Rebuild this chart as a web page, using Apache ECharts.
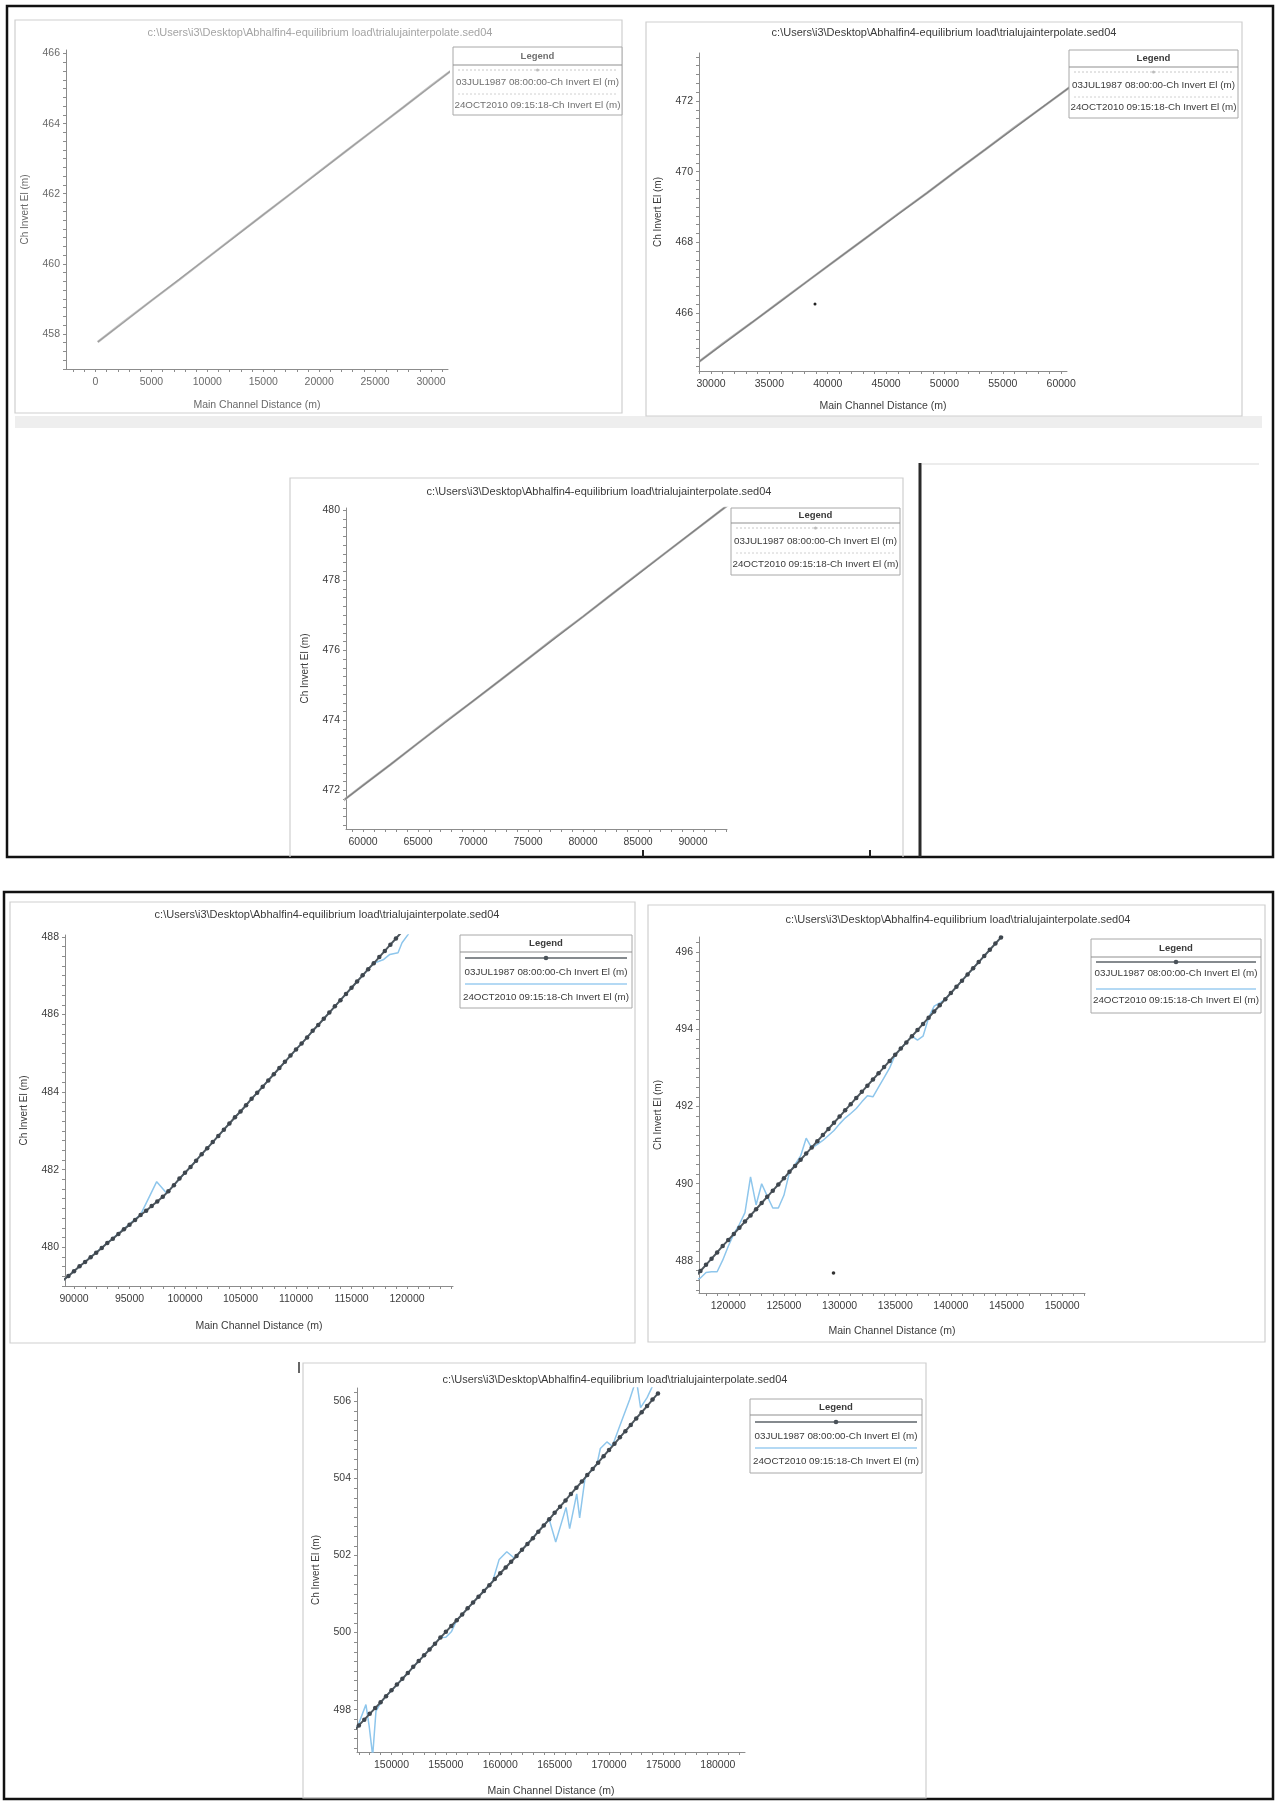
<!DOCTYPE html>
<html>
<head>
<meta charset="utf-8">
<script src="https://cdn.jsdelivr.net/npm/echarts@6/dist/echarts.min.js"></script>
<style>
  html, body { margin: 0; padding: 0; background: #ffffff; }
  #chart { width: 1275px; height: 1801px; }
</style>
</head>
<body>
<div id="chart"></div>
<script>
// ---- Texts ----
const PLOT_TITLE = 'c:\\Users\\i3\\Desktop\\Abhalfin4-equilibrium load\\trialujainterpolate.sed04';
const NAME_1987 = '03JUL1987 08:00:00-Ch Invert El (m)';
const NAME_2010 = '24OCT2010 09:15:18-Ch Invert El (m)';
const X_NAME = 'Main Channel Distance (m)';
const Y_NAME = 'Ch Invert El (m)';

// ---- Tick labels ----
const p1XTicks = [0, 5000, 10000, 15000, 20000, 25000, 30000];
const p1YTicks = [458, 460, 462, 464, 466];
const p2XTicks = [30000, 35000, 40000, 45000, 50000, 55000, 60000];
const p2YTicks = [466, 468, 470, 472];
const p3XTicks = [60000, 65000, 70000, 75000, 80000, 85000, 90000];
const p3YTicks = [472, 474, 476, 478, 480];
const p4XTicks = [90000, 95000, 100000, 105000, 110000, 115000, 120000];
const p4YTicks = [480, 482, 484, 486, 488];
const p5XTicks = [120000, 125000, 130000, 135000, 140000, 145000, 150000];
const p5YTicks = [488, 490, 492, 494, 496];
const p6XTicks = [150000, 155000, 160000, 165000, 170000, 175000, 180000];
const p6YTicks = [498, 500, 502, 504, 506];

// ---- Reach 0 - 32 km ----
const p1Dist = [200, 2500, 5000, 7500, 10000, 12500, 15000, 17500, 20000, 22500, 25000, 27500, 30000, 32500];
const p1Elev1987 = [457.77, 458.33, 458.95, 459.56, 460.17, 460.78, 461.40, 462.01, 462.62, 463.24, 463.85, 464.46, 465.07, 465.68];
const p1Elev2010 = [457.77, 458.34, 458.95, 459.55, 460.17, 460.79, 461.40, 462.01, 462.63, 463.24, 463.85, 464.46, 465.08, 465.68];

// ---- Reach 29 - 61 km ----
const p2Dist = [29000, 31000, 33500, 36000, 38500, 41000, 43500, 46000, 48500, 51000, 53500, 56000, 58500, 61000];
const p2Elev1987 = [464.63, 465.12, 465.73, 466.34, 466.96, 467.57, 468.18, 468.79, 469.40, 470.02, 470.63, 471.24, 471.85, 472.46];
const p2Elev2010 = [464.63, 465.13, 465.73, 466.35, 466.96, 467.57, 468.18, 468.80, 469.40, 470.02, 470.63, 471.25, 471.85, 472.46];

// ---- Reach 58 - 93 km ----
const p3Dist = [58000, 60000, 62500, 65000, 67500, 70000, 72500, 75000, 77500, 80000, 82500, 85000, 87500, 90000, 92500, 93500];
const p3Elev1987 = [471.66, 472.14, 472.74, 473.35, 473.95, 474.55, 475.15, 475.76, 476.36, 476.96, 477.57, 478.17, 478.78, 479.38, 479.98, 480.22];
const p3Elev2010 = [471.66, 472.15, 472.74, 473.35, 473.96, 474.55, 475.15, 475.76, 476.37, 476.96, 477.57, 478.18, 478.78, 479.38, 479.98, 480.22];

// ---- Reach 89 - 121 km ----
const p4Dist = [89000, 89500, 90000, 90500, 91000, 91500, 92000, 92500, 93000, 93500, 94000, 94500, 95000, 95500, 96000, 96500,
  97000, 97500, 98000, 98500, 99000, 99500, 100000, 100500, 101000, 101500, 102000, 102500, 103000, 103500, 104000, 104500,
  105000, 105500, 106000, 106500, 107000, 107500, 108000, 108500, 109000, 109500, 110000, 110500, 111000, 111500, 112000,
  112500, 113000, 113500, 114000, 114500, 115000, 115500, 116000, 116500, 117000, 117500, 118000, 118500, 119000, 119500,
  120000, 120500];
const p4Elev1987 = [479.14, 479.26, 479.38, 479.51, 479.62, 479.74, 479.86, 479.98, 480.11, 480.22, 480.34, 480.46, 480.58, 480.70, 480.83, 480.94,
  481.06, 481.18, 481.30, 481.44, 481.60, 481.77, 481.92, 482.07, 482.23, 482.40, 482.55, 482.71, 482.87, 483.03, 483.19, 483.35,
  483.50, 483.66, 483.83, 483.98, 484.14, 484.30, 484.46, 484.62, 484.78, 484.94, 485.10, 485.25, 485.41, 485.58, 485.73,
  485.89, 486.05, 486.21, 486.37, 486.53, 486.69, 486.85, 487.01, 487.17, 487.32, 487.48, 487.64, 487.80, 487.96, 488.12,
  488.28, 488.44];
const p4Dist2010 = [89000, 96000, 97450, 98350, 117000, 117900, 118450, 119190, 119550, 120090, 120600];
const p4Elev2010 = [479.14, 480.84, 481.69, 481.39, 487.32, 487.42, 487.55, 487.59, 487.85, 488.06, 488.35];

// ---- Reach 117 - 145 km ----
const p5Dist = [117000, 117500, 118000, 118500, 119000, 119500, 120000, 120500, 121000, 121500, 122000, 122500, 123000, 123500,
  124000, 124500, 125000, 125500, 126000, 126500, 127000, 127500, 128000, 128500, 129000, 129500, 130000, 130500, 131000,
  131500, 132000, 132500, 133000, 133500, 134000, 134500, 135000, 135500, 136000, 136500, 137000, 137500, 138000, 138500,
  139000, 139500, 140000, 140500, 141000, 141500, 142000, 142500, 143000, 143500, 144000, 144500, 145000];
const p5Elev1987 = [487.58, 487.74, 487.90, 488.06, 488.22, 488.39, 488.54, 488.70, 488.86, 489.02, 489.18, 489.34, 489.50, 489.66,
  489.82, 489.98, 490.14, 490.31, 490.46, 490.62, 490.78, 490.94, 491.10, 491.26, 491.42, 491.58, 491.74, 491.90, 492.06,
  492.22, 492.38, 492.54, 492.70, 492.86, 493.02, 493.18, 493.34, 493.50, 493.66, 493.82, 493.98, 494.14, 494.30, 494.46,
  494.62, 494.78, 494.94, 495.10, 495.26, 495.42, 495.58, 495.74, 495.90, 496.06, 496.22, 496.38, 496.54];
const p5Dist2010 = [117000, 117500, 118000, 118500, 119000, 119500, 120000, 120500, 121000, 121500, 122000, 122500, 123000, 123500,
  124000, 124500, 125000, 125500, 126000, 126500, 127000, 127500, 128000, 128500, 129000, 129500, 130000, 130500, 131000,
  131500, 132000, 132500, 133000, 133500, 134000, 134500, 135000, 136500, 137000, 137500, 138000, 138500, 139000, 139500, 145000];
const p5Elev2010 = [487.50, 487.56, 487.70, 487.72, 487.72, 488.02, 488.38, 488.70, 488.95, 489.25, 490.18, 489.45, 490.00, 489.68,
  489.37, 489.37, 489.70, 490.30, 490.50, 490.72, 491.18, 490.92, 491.02, 491.12, 491.25, 491.38, 491.55, 491.70, 491.82,
  491.95, 492.12, 492.28, 492.25, 492.50, 492.75, 493.00, 493.34, 493.82, 493.72, 493.82, 494.30, 494.60, 494.68, 494.78, 496.54];

// ---- Reach 146 - 175 km ----
const p6Dist = [146500, 147000, 147500, 148000, 148500, 149000, 149500, 150000, 150500, 151000, 151500, 152000, 152500, 153000,
  153500, 154000, 154500, 155000, 155500, 156000, 156500, 157000, 157500, 158000, 158500, 159000, 159500, 160000, 160500,
  161000, 161500, 162000, 162500, 163000, 163500, 164000, 164500, 165000, 165500, 166000, 166500, 167000, 167500, 168000,
  168500, 169000, 169500, 170000, 170500, 171000, 171500, 172000, 172500, 173000, 173500, 174000, 174500];
const p6Elev1987 = [497.43, 497.59, 497.74, 497.89, 498.04, 498.19, 498.35, 498.50, 498.65, 498.80, 498.95, 499.11, 499.26, 499.41,
  499.56, 499.71, 499.87, 500.02, 500.17, 500.32, 500.47, 500.63, 500.78, 500.93, 501.08, 501.23, 501.39, 501.54, 501.69,
  501.84, 501.99, 502.15, 502.30, 502.45, 502.62, 502.78, 502.94, 503.11, 503.27, 503.43, 503.60, 503.76, 503.92, 504.09,
  504.25, 504.41, 504.58, 504.74, 504.90, 505.07, 505.23, 505.39, 505.56, 505.72, 505.88, 506.05, 506.21];
const p6Dist2010 = [146500, 146950, 147650, 147950, 148270, 148575, 149100, 154500, 155000, 155500, 156000, 159300, 159900, 160600,
  161300, 164500, 165100, 166050, 166380, 167030, 167300, 167800, 168900, 169200, 169800, 170300, 170900, 171900, 172300,
  172600, 172900, 173500, 174000];
const p6Elev2010 = [497.40, 497.61, 498.13, 497.57, 496.80, 497.96, 498.22, 499.87, 499.88, 500.02, 500.32, 501.33, 501.90, 502.10,
  501.93, 502.94, 502.35, 503.25, 502.70, 503.60, 502.98, 504.02, 504.38, 504.78, 504.95, 504.84, 505.30, 506.05, 506.40,
  506.40, 505.84, 506.10, 506.40];

// ---- Layout of the six profile plots ----
const FONT = '"Liberation Sans", Arial, Helvetica, sans-serif';
const panels = [
  { grid: { left: 66, top: 50, width: 382, height: 319 }, xMin: -2640, xMax: 31520, yMin: 457.0, yMax: 466.1,
    xTicks: p1XTicks, yTicks: p1YTicks, xNameGap: 31, showXName: true, rich: false, faded: true,
    dist: p1Dist, e1987: p1Elev1987, dist2010: p1Dist, e2010: p1Elev2010,
    box: [15, 20, 622, 413], title: [320, 33],
    legend: { x: 453, w: 169, top: 47, head: 65, s1: 70, t1: 82, s2: 94, t2: 105, bottom: 115 } },
  { grid: { left: 699, top: 53, width: 368, height: 318 }, xMin: 28970, xMax: 60500, yMin: 464.36, yMax: 473.36,
    xTicks: p2XTicks, yTicks: p2YTicks, xNameGap: 30, showXName: true, rich: false, faded: false,
    dist: p2Dist, e1987: p2Elev1987, dist2010: p2Dist, e2010: p2Elev2010,
    box: [646, 22, 1242, 416], title: [944, 33],
    legend: { x: 1069, w: 169, top: 50, head: 67, s1: 72, t1: 85, s2: 97, t2: 107, bottom: 118 } },
  { grid: { left: 346, top: 508, width: 381, height: 321 }, xMin: 58450, xMax: 93090, yMin: 470.9, yMax: 480.06,
    xTicks: p3XTicks, yTicks: p3YTicks, xNameGap: 30, showXName: false, rich: false, faded: false,
    dist: p3Dist, e1987: p3Elev1987, dist2010: p3Dist, e2010: p3Elev2010,
    box: [290, 478, 903, 857], openBottom: true, title: [599, 492],
    legend: { x: 731, w: 169, top: 508, head: 523, s1: 528, t1: 541, s2: 553, t2: 564, bottom: 575 } },
  { grid: { left: 65, top: 935, width: 388, height: 351 }, xMin: 89190, xMax: 124140, yMin: 479.0, yMax: 488.05,
    xTicks: p4XTicks, yTicks: p4YTicks, xNameGap: 35, showXName: true, rich: true, faded: false,
    dist: p4Dist, e1987: p4Elev1987, dist2010: p4Dist2010, e2010: p4Elev2010,
    box: [10, 902, 635, 1343], title: [327, 915],
    legend: { x: 460, w: 172, top: 935, head: 952, s1: 958, t1: 972, s2: 984, t2: 997, bottom: 1008 } },
  { grid: { left: 699, top: 937, width: 386, height: 356 }, xMin: 117370, xMax: 152050, yMin: 487.17, yMax: 496.39,
    xTicks: p5XTicks, yTicks: p5YTicks, xNameGap: 33, showXName: true, rich: true, faded: false,
    dist: p5Dist, e1987: p5Elev1987, dist2010: p5Dist2010, e2010: p5Elev2010,
    box: [648, 905, 1265, 1342], title: [958, 920],
    legend: { x: 1091, w: 170, top: 939, head: 957, s1: 962, t1: 973, s2: 989, t2: 1000, bottom: 1013 } },
  { grid: { left: 357, top: 1388, width: 388, height: 364 }, xMin: 146830, xMax: 182500, yMin: 496.9, yMax: 506.35,
    xTicks: p6XTicks, yTicks: p6YTicks, xNameGap: 34, showXName: true, rich: true, faded: false,
    dist: p6Dist, e1987: p6Elev1987, dist2010: p6Dist2010, e2010: p6Elev2010,
    box: [303, 1363, 926, 1798], title: [615, 1380],
    legend: { x: 750, w: 172, top: 1399, head: 1415, s1: 1422, t1: 1436, s2: 1448, t2: 1461, bottom: 1473 } }
];

// small tick marks between the labelled values
function tickRun(min, max, step) {
  const out = [];
  for (let k = Math.ceil(min / step); k * step <= max + 1e-9; k++) {
    out.push(Math.round(k * step * 1000) / 1000);
  }
  return out;
}

function pairs(xs, ys) {
  return xs.map((x, i) => [x, ys[i]]);
}

const AXIS_COLOR = '#8c8c8c';
const grids = [], xAxes = [], yAxes = [], series = [];

panels.forEach((p, i) => {
  const textColor = p.faded ? '#6a6a6a' : '#3c3c3c';
  grids.push(Object.assign({ containLabel: false }, p.grid));
  xAxes.push({
    type: 'value', gridIndex: i, min: p.xMin, max: p.xMax,
    name: p.showXName ? X_NAME : '', nameLocation: 'middle', nameGap: p.xNameGap,
    nameTextStyle: { color: textColor, fontSize: 10.5, fontFamily: FONT },
    axisLine: { show: true, onZero: false, lineStyle: { color: AXIS_COLOR, width: 1 } },
    axisTick: { show: true, customValues: tickRun(p.xMin, p.xMax, 1000), length: 3,
      lineStyle: { color: AXIS_COLOR, width: 1 } },
    axisLabel: { customValues: p.xTicks, formatter: v => String(v), margin: 8,
      color: textColor, fontSize: 10.5, fontFamily: FONT },
    splitLine: { show: false }
  });
  yAxes.push({
    type: 'value', gridIndex: i, min: p.yMin, max: p.yMax,
    name: Y_NAME, nameLocation: 'middle', nameGap: 36, nameRotate: 90,
    nameTextStyle: { color: textColor, fontSize: 10, fontFamily: FONT },
    axisLine: { show: true, onZero: false, lineStyle: { color: AXIS_COLOR, width: 1 } },
    axisTick: { show: true, customValues: tickRun(p.yMin, p.yMax, 0.25), length: 3,
      lineStyle: { color: AXIS_COLOR, width: 1 } },
    axisLabel: { customValues: p.yTicks, formatter: v => String(v), margin: 6,
      color: textColor, fontSize: 10.5, fontFamily: FONT },
    splitLine: { show: false }
  });

  if (p.rich) {
    series.push({
      name: NAME_2010, type: 'line', xAxisIndex: i, yAxisIndex: i,
      data: pairs(p.dist2010, p.e2010), showSymbol: false, clip: true,
      lineStyle: { color: '#8ec6ec', width: 1.5 }, z: 2
    });
    series.push({
      name: NAME_1987, type: 'line', xAxisIndex: i, yAxisIndex: i,
      data: pairs(p.dist, p.e1987), symbol: 'circle', symbolSize: 4.5, showAllSymbol: true, clip: true,
      itemStyle: { color: '#3e464e' }, lineStyle: { color: '#4f585f', width: 2 }, z: 3
    });
  } else {
    series.push({
      name: NAME_2010, type: 'line', xAxisIndex: i, yAxisIndex: i,
      data: pairs(p.dist2010, p.e2010), showSymbol: false, clip: true,
      lineStyle: { color: p.faded ? '#c4c4c4' : '#b4b4b4', width: 2.4 }, z: 2
    });
    series.push({
      name: NAME_1987, type: 'line', xAxisIndex: i, yAxisIndex: i,
      data: pairs(p.dist, p.e1987), showSymbol: false, clip: true,
      lineStyle: { color: p.faded ? '#9c9c9c' : '#7e7e7e', width: 1.2 }, z: 3
    });
  }
});

// ---- Frames, panel boxes, titles and legend tables ----
const gfx = [];

// outer page frames
gfx.push({ type: 'rect', shape: { x: 7, y: 6, width: 1266, height: 851 },
  style: { fill: 'none', stroke: '#111', lineWidth: 2.5 } });
gfx.push({ type: 'rect', shape: { x: 4, y: 892, width: 1269, height: 907 },
  style: { fill: 'none', stroke: '#111', lineWidth: 2.5 } });
// shaded strip under the first two plots
gfx.push({ type: 'rect', shape: { x: 15, y: 416, width: 1247, height: 12 },
  style: { fill: '#eeeeee' } });
// divider beside the third plot
gfx.push({ type: 'line', shape: { x1: 920, y1: 463, x2: 920, y2: 857 },
  style: { stroke: '#2a2a2a', lineWidth: 3 } });
gfx.push({ type: 'line', shape: { x1: 922, y1: 464, x2: 1259, y2: 464 },
  style: { stroke: '#e6e6e6', lineWidth: 1.5 } });
gfx.push({ type: 'line', shape: { x1: 643, y1: 850, x2: 643, y2: 857 }, style: { stroke: '#222', lineWidth: 2 } });
gfx.push({ type: 'line', shape: { x1: 870, y1: 850, x2: 870, y2: 857 }, style: { stroke: '#222', lineWidth: 2 } });
gfx.push({ type: 'line', shape: { x1: 299, y1: 1362, x2: 299, y2: 1373 }, style: { stroke: '#333', lineWidth: 1.5 } });
// stray dots
gfx.push({ type: 'circle', shape: { cx: 815, cy: 304, r: 1.5 }, style: { fill: '#222' } });
gfx.push({ type: 'circle', shape: { cx: 833.5, cy: 1273, r: 1.8 }, style: { fill: '#333' } });

panels.forEach((p) => {
  const [bx1, by1, bx2, by2] = p.box;
  if (p.openBottom) {
    gfx.push({ type: 'polyline', shape: { points: [[bx1, by2], [bx1, by1], [bx2, by1], [bx2, by2]] },
      style: { fill: 'none', stroke: '#cfcfcf', lineWidth: 1.2 } });
  } else {
    gfx.push({ type: 'rect', shape: { x: bx1, y: by1, width: bx2 - bx1, height: by2 - by1 },
      style: { fill: 'none', stroke: '#cfcfcf', lineWidth: 1.2 } });
  }
  gfx.push({ type: 'text', x: p.title[0], y: p.title[1],
    style: { text: PLOT_TITLE, fill: p.faded ? '#a4a4a4' : '#3a3a3a',
      font: '11px ' + FONT, align: 'center', verticalAlign: 'middle' } });

  const L = p.legend;
  const cx = L.x + L.w / 2;
  const txt = p.faded ? '#707070' : '#3a3a3a';
  gfx.push({ type: 'rect', shape: { x: L.x, y: L.top, width: L.w, height: L.bottom - L.top },
    style: { fill: '#ffffff', stroke: '#a8a8a8', lineWidth: 1 }, z: 10 });
  gfx.push({ type: 'line', shape: { x1: L.x, y1: L.head, x2: L.x + L.w, y2: L.head },
    style: { stroke: '#8f8f8f', lineWidth: 1 }, z: 10 });
  gfx.push({ type: 'text', x: cx, y: (L.top + L.head) / 2,
    style: { text: 'Legend', fill: txt, font: 'bold 9.5px ' + FONT, align: 'center', verticalAlign: 'middle' }, z: 10 });
  // series swatches
  gfx.push({ type: 'line', shape: { x1: L.x + 5, y1: L.s1, x2: L.x + L.w - 5, y2: L.s1 },
    style: { stroke: p.rich ? '#5c6369' : '#c8c8c8', lineWidth: p.rich ? 1.3 : 1, lineDash: p.rich ? null : [2, 2] }, z: 10 });
  gfx.push({ type: 'circle', shape: { cx: cx, cy: L.s1, r: p.rich ? 2.3 : 1.5 },
    style: { fill: p.rich ? '#4a5259' : '#bcbcbc' }, z: 10 });
  gfx.push({ type: 'text', x: cx, y: L.t1,
    style: { text: NAME_1987, fill: txt, font: '9.8px ' + FONT, align: 'center', verticalAlign: 'middle' }, z: 10 });
  gfx.push({ type: 'line', shape: { x1: L.x + 5, y1: L.s2, x2: L.x + L.w - 5, y2: L.s2 },
    style: { stroke: p.rich ? '#9bcdf0' : '#d0d0d0', lineWidth: p.rich ? 1.4 : 1, lineDash: p.rich ? null : [2, 2] }, z: 10 });
  gfx.push({ type: 'text', x: cx, y: L.t2,
    style: { text: NAME_2010, fill: txt, font: '9.8px ' + FONT, align: 'center', verticalAlign: 'middle' }, z: 10 });
});

const chart = echarts.init(document.getElementById('chart'), null, { renderer: 'canvas' });
chart.setOption({
  animation: false,
  backgroundColor: '#ffffff',
  grid: grids,
  xAxis: xAxes,
  yAxis: yAxes,
  series: series,
  graphic: { elements: gfx.map(e => Object.assign({ silent: true }, e)) }
});
</script>
</body>
</html>
